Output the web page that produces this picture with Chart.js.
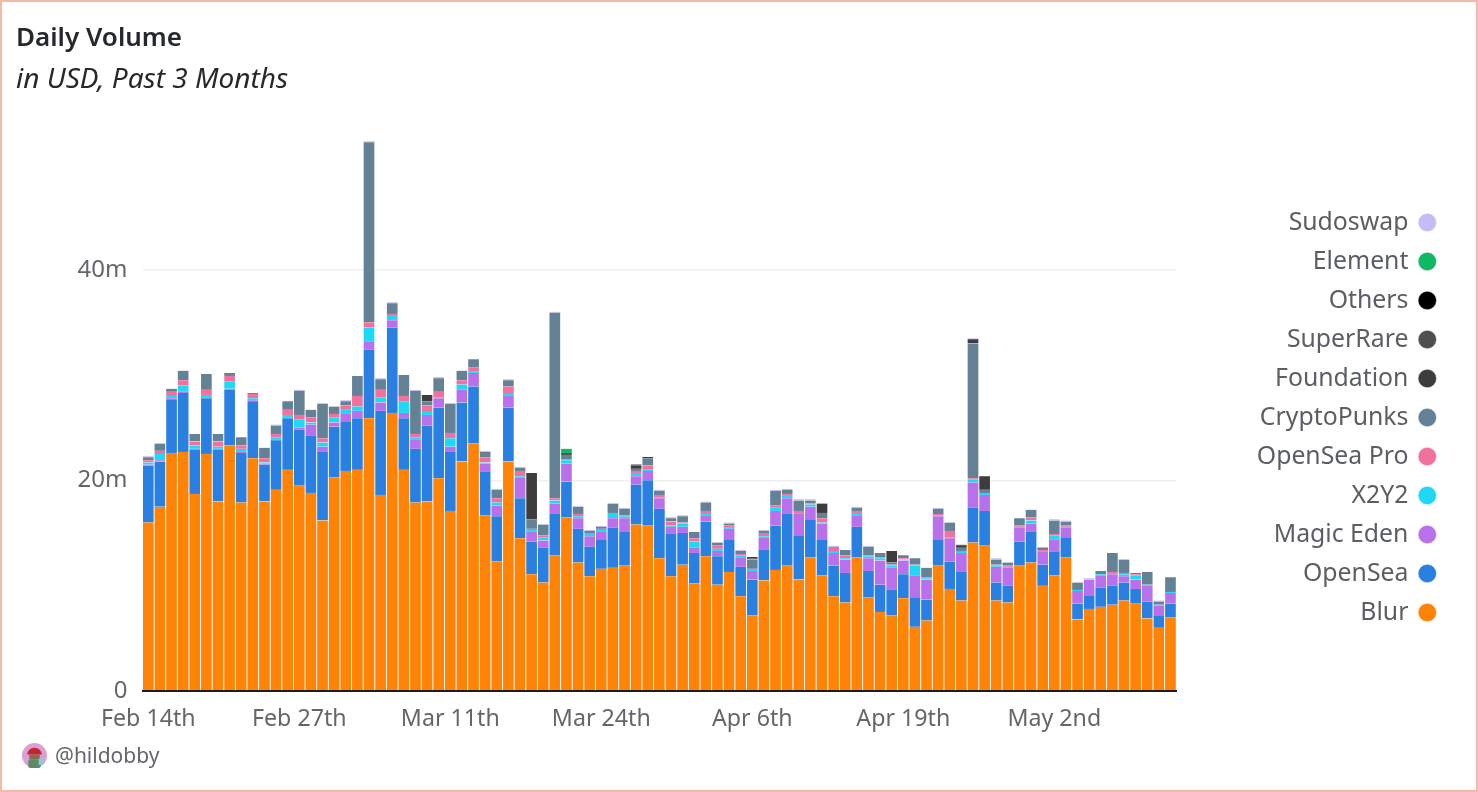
<!DOCTYPE html>
<html><head><meta charset="utf-8">
<script src="https://cdn.jsdelivr.net/npm/chart.js@4"></script>
<style>
html,body{margin:0;padding:0;background:#fff;overflow:hidden}
#frame{position:absolute;left:0;top:0;width:1478px;height:792px;box-sizing:border-box;border:2px solid #f5b9a9;pointer-events:none}
canvas{position:absolute;left:0;top:0}
#credit{position:absolute;left:22px;top:743px;height:24px;display:flex;align-items:center;font:21px "Noto Sans",sans-serif;color:#63676b}
#credit svg{margin-right:8px}
</style></head><body>
<canvas id="c" width="1478" height="792" style="width:1478px;height:792px"></canvas>
<div id="frame"></div>
<div id="credit"><svg width="25" height="25" viewBox="0 0 24 24"><circle cx="12" cy="12" r="12" fill="#d9a0d4"/><path d="M5 11a7 6.5 0 0 1 14 0z" fill="#c8232c"/><rect x="7" y="11" width="10" height="5" fill="#8a6a4a"/><rect x="6" y="16" width="12" height="8" rx="2" fill="#5d8a6a"/><rect x="16" y="15" width="4" height="6" fill="#7fd0e0"/></svg>@hildobby</div>
<script>
const categories = ["Feb 14th","Feb 15th","Feb 16th","Feb 17th","Feb 18th","Feb 19th","Feb 20th","Feb 21st","Feb 22nd","Feb 23rd","Feb 24th","Feb 25th","Feb 26th","Feb 27th","Feb 28th","Feb 29th",
"Mar 1st","Mar 2nd","Mar 3rd","Mar 4th","Mar 5th","Mar 6th","Mar 7th","Mar 8th","Mar 9th","Mar 10th","Mar 11th","Mar 12th","Mar 13th","Mar 14th","Mar 15th","Mar 16th","Mar 17th","Mar 18th","Mar 19th","Mar 20th","Mar 21st","Mar 22nd","Mar 23rd","Mar 24th","Mar 25th","Mar 26th","Mar 27th","Mar 28th","Mar 29th","Mar 30th","Mar 31st",
"Apr 1st","Apr 2nd","Apr 3rd","Apr 4th","Apr 5th","Apr 6th","Apr 7th","Apr 8th","Apr 9th","Apr 10th","Apr 11th","Apr 12th","Apr 13th","Apr 14th","Apr 15th","Apr 16th","Apr 17th","Apr 18th","Apr 19th","Apr 20th","Apr 21st","Apr 22nd","Apr 23rd","Apr 24th","Apr 25th","Apr 26th","Apr 27th","Apr 28th","Apr 29th","Apr 30th",
"May 1st","May 2nd","May 3rd","May 4th","May 5th","May 6th","May 7th","May 8th","May 9th","May 10th","May 11th","May 12th"];
const xTickLabels = ["Feb 14th","Feb 27th","Mar 11th","Mar 24th","Apr 6th","Apr 19th","May 2nd"];
const yTickValues = [0,20,40];

const blur = [16.0,17.5,22.6,22.7,18.7,22.5,18.0,23.3,17.9,22.1,18.0,19.1,21.0,19.5,18.8,16.2,20.3,20.9,21.0,25.9,18.6,26.4,21.0,17.9,18.0,20.2,17.1,21.8,23.5,16.7,12.3,21.8,14.5,11.1,10.3,12.9,16.5,12.2,10.9,11.6,11.7,11.9,15.8,15.7,12.6,10.9,12.0,10.2,12.8,10.1,11.3,9.0,7.2,10.5,11.5,11.9,10.6,12.7,11.0,9.0,8.4,12.7,8.9,7.5,7.2,8.8,6.1,6.7,11.9,9.7,8.6,14.1,13.8,8.6,8.4,11.9,12.2,10.0,11.0,12.7,6.8,7.8,8.0,8.2,8.6,8.3,6.9,6.0,7.0];
const opensea = [5.4,4.3,5.1,5.6,4.2,5.3,4.9,5.3,4.7,5.4,3.5,4.7,4.9,5.3,5.4,6.5,4.8,4.7,4.9,6.5,8.0,8.1,4.9,5.1,7.2,6.7,5.6,5.6,5.4,4.1,4.3,5.1,3.8,3.1,3.3,3.9,3.4,3.2,2.8,2.8,3.8,3.2,3.8,4.3,4.7,4.0,3.0,2.9,3.3,2.7,3.1,2.8,3.4,2.9,4.2,4.9,4.2,3.6,3.4,2.9,2.8,2.9,2.5,2.6,2.4,2.3,2.8,2.0,2.5,2.6,2.7,3.3,3.3,1.7,1.6,2.3,2.9,2.0,2.2,1.9,1.5,1.3,1.8,1.8,1.7,1.4,1.6,1.2,1.3];
const magicEden = [.1,.1,.1,.1,.1,.1,.1,.1,.1,.1,.1,.1,.1,.2,1.1,.5,.4,.7,.7,.8,.8,.7,.5,.9,1.0,.9,.5,1.2,1.3,.8,1.0,1.1,2.0,.9,.7,1.0,1.7,1.0,1.0,.7,.9,1.3,.8,.9,1.0,.7,.6,.5,.6,.5,1.0,.9,.8,1.2,1.4,1.5,2.0,1.2,1.5,1.2,1.3,1.1,1.2,2.3,2.1,1.3,2.1,1.9,2.2,2.2,1.8,2.4,1.5,1.5,1.7,1.3,.8,1.2,1.2,.9,1.2,1.5,1.2,1.1,.6,.9,1.5,.9,1.0];
const x2y2 = [.2,.6,.2,.6,.3,.2,.2,.7,.3,.2,.1,.2,.2,.8,.2,.4,.5,.4,.4,1.3,.5,.4,1.1,.2,.3,.1,.8,.5,.1,.1,.3,.2,.1,.2,.3,.3,.3,.2,.2,.2,.4,.2,.3,.1,.1,.1,.3,.6,.1,.2,.1,.2,.1,.1,.3,.3,.1,.2,.1,.1,.1,.2,.2,.2,.2,.1,.9,.1,.1,.1,.1,.3,.1,.1,.1,.1,.3,.1,.4,.1,.1,0,.1,.1,.2,.4,.1,.1,.1];
const openseaPro = [.2,.3,.4,.5,.4,.5,.5,.5,.3,.4,.4,.3,.5,.4,.5,.4,.3,.4,1.0,.5,.7,.2,.5,.3,.6,.5,.5,.4,.4,.5,.4,.7,.5,.1,.2,.2,.1,.2,.1,.1,.1,.1,.2,.4,.2,.4,.1,.3,.3,.3,.2,.1,.1,.3,.2,.1,.2,.1,.4,.4,.3,.2,.1,.1,.1,.1,.1,.1,.1,.6,.1,.1,.1,.1,.1,.1,.3,.1,.1,.1,0,0,0,.1,.1,.1,0,0,0];
const cryptoPunks = [.3,.7,.3,.9,.7,1.5,.7,.3,.8,.1,1.0,.8,.8,2.3,.7,3.3,.7,.4,1.9,17.1,1.0,1.0,2.0,4.1,.4,1.3,2.8,.9,.8,.5,.8,.6,.3,.9,1.0,17.6,.4,.7,.2,.2,.9,.6,.2,.7,.4,.3,.6,.6,.8,.3,.2,.3,.9,.2,1.4,.4,1.0,.3,.5,.1,.5,.3,.8,.4,.2,.3,.6,.9,.5,.8,.3,12.8,.3,.5,.3,.7,.7,.1,1.3,.4,.7,0,.3,1.8,1.3,.1,1.2,.3,1.4];
const foundation = [0,0,0,0,0,0,0,0,0,0, 0,0,0,0,0,0,0,0,0,0, 0,0,0,0,.6,0,0,0,0,0, 0,0,0,4.4,0,0,0,0,0,0, 0,0,.3,0,0,0,0,0,0,0, 0,0,.1,0,0,0,0,0,.9,0, 0,0,0,0,1.1,0,0,0,0,0, .2,.4,1.3,0,0,0,0,0,0,0, 0,0,0,0,0,0,0,0,0];
const superRare = [0,0,0,0,0,0,0,0,0,0, 0,0,0,0,0,0,0,0,0,0, 0,0,0,0,0,0,0,0,0,0, 0,0,0,0,0,0,.2,0,0,0, 0,0,0,0,0,0,0,0,0,0, 0,0,0,0,0,0,0,0,0,0, 0,0,0,0,0,0,0,0,0,0, 0,0,0,0,0,0,0,.1,0,0, 0,0,0,0,0,0,0,0,0];
const others = [0,0,0,0,0,0,0,0,0,0, 0,0,0,0,0,0,0,0,0,0, 0,0,0,0,0,0,0,0,0,0, 0,0,0,0,0,0,0,0,0,0, 0,0,.1,.1,0,0,0,0,0,0, 0,0,.1,0,0,0,0,0,0,0, 0,0,0,0,0,0,0,0,0,0, .1,0,0,0,0,0,0,0,0,0, 0,0,0,0,0,0,0,0,0];
const element = [0,0,0,0,0,0,0,0,0,0, 0,0,0,0,0,0,0,0,0,0, 0,0,0,0,0,0,0,0,0,0, 0,0,0,0,0,0,.4,0,0,0, 0,0,0,0,0,0,0,0,0,0, 0,0,0,0,0,0,0,0,0,0, 0,0,0,0,0,0,0,0,0,0, 0,0,0,0,0,0,0,0,0,0, 0,0,0,0,0,0,0,0,0];
const sudoswap = [.1,0,0,0,0,0,0,0,0,0, 0,.1,0,.1,0,0,0,.1,0,.1, .1,.1,0,.1,0,.1,0,0,0,.1, .1,.1,.1,0,0,.1,0,.1,.1,.1, 0,.1,0,0,.1,.1,.1,0,.1,0, .1,.1,0,.1,.1,.1,.1,.1,0,.1, 0,.1,.1,0,0,0,0,0,.1,0, 0,.1,0,.1,0,0,0,.1,.1,.1, 0,.1,0,0,0,0,0,.1,0];

const seriesNames = ["Blur","OpenSea","Magic Eden","X2Y2","OpenSea Pro","CryptoPunks","Foundation","SuperRare","Others","Element","Sudoswap"];
const seriesValues = [blur,opensea,magicEden,x2y2,openseaPro,cryptoPunks,foundation,superRare,others,element,sudoswap];
const seriesColors = ["#ff8306","#2a80e0","#b871ea","#1fd8f6","#f2709c","#648196","#3d3d3d","#4f4f4f","#000000","#11b864","#c4bdf5"];

const font = '"Noto Sans", sans-serif';
const legendExtra = {
  id:'legendExtra',
  beforeLayout(chart){
    const l = chart.legend;
    if(!l._wrapped){
      const fit = l.fit;
      l.fit = function(){ fit.call(this); this.width += 70.5; };
      l._wrapped = true;
    }
  },
  afterLayout(chart){ chart.legend.top += 36.5; chart.legend.bottom += 36.5; }
};
new Chart(document.getElementById('c'),{
  type:'bar',
  data:{labels:categories,datasets:seriesNames.map((n,i)=>({label:n,data:seriesValues[i],backgroundColor:seriesColors[i],
    borderColor:'rgba(255,255,255,.85)',borderWidth:{left:.8,right:.8,top:.25,bottom:.25},borderSkipped:false,
    barPercentage:1,categoryPercentage:1,stack:'v'}))},
  options:{
    responsive:false,animation:false,devicePixelRatio:1,
    layout:{padding:{left:16,right:30,top:23,bottom:53}},
    plugins:{
      tooltip:{enabled:false},
      title:{display:true,text:'Daily Volume',align:'start',color:'#26292c',font:{family:font,size:26,weight:'600'},padding:{top:0,bottom:9}},
      subtitle:{display:true,text:'in USD, Past 3 Months',align:'start',color:'#26292c',font:{family:font,size:28,style:'italic',weight:'400'},padding:{top:0,bottom:44.5}},
      legend:{position:'right',reverse:true,rtl:true,
        labels:{usePointStyle:true,pointStyle:'circle',boxWidth:13,boxHeight:13,padding:14.2,color:'#5b5f63',font:{family:font,size:24.8}}}
    },
    scales:{
      x:{stacked:true,offset:true,grid:{display:false},border:{display:true,color:'#1c1c1c',width:2,z:2},
        ticks:{autoSkip:false,maxRotation:0,minRotation:0,padding:6,color:'#63676b',font:{family:font,size:23.2},
          callback(v){const s=categories[v];return xTickLabels.includes(s)?s:'';}}},
      y:{stacked:true,min:0,max:52.19,
        afterBuildTicks(s){s.ticks=yTickValues.map(v=>({value:v}));},
        afterFit(s){s.width=126.5;},
        border:{display:false},
        grid:{color:'#efefef',lineWidth:1.5,drawTicks:false},
        ticks:{padding:15,color:'#63676b',font:{family:font,size:24},callback(v){return v===0?'0':v+'m';}}}
    }
  },
  plugins:[legendExtra]
});
</script>
</body></html>
